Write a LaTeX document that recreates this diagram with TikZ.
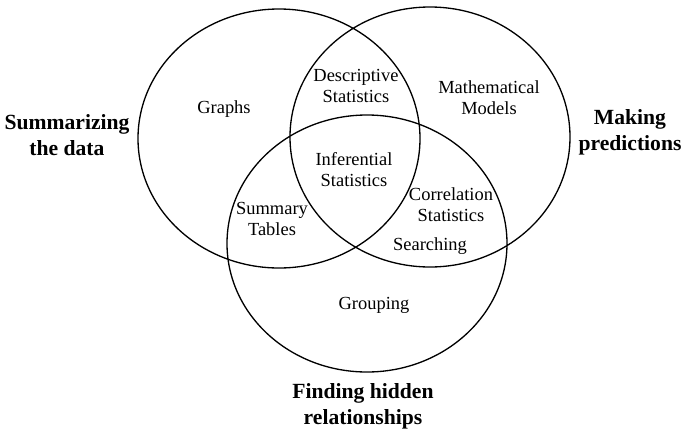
\documentclass[tikz,border=0pt]{standalone}
\usepackage{fontspec}
\setmainfont{Liberation Serif}
\begin{document}
\begin{tikzpicture}[x=0.2mm,y=-0.2mm,line join=round,line cap=round,
 lbl/.style={align=center,font=\fontsize{10.5}{12}\selectfont},
 bigtext/.style={align=center,font=\bfseries\fontsize{12.3}{15}\selectfont}]
 \useasboundingbox (0,0) rectangle (682,429);
 % the three sets
 \draw[line width=0.75pt] (279,138.5) ellipse (141 and 129.5)
 (430,137) ellipse (140 and 130)
 (367,243.5) ellipse (140 and 128.5);
 % set names
 \node[bigtext] (summ) at (67,135) {Summarizing\\the data};
 \node[bigtext] (pred) at (630,132) {Making\\predictions};
 \node[bigtext] (hidden) at (363,406) {Finding hidden\\relationships};
 % regions
 \node[lbl] (graphs) at (224,109) {Graphs};
 \node[lbl] (descr) at (356,86) {Descriptive\\Statistics};
 \node[lbl] (models) at (489,98) {Mathematical\\Models};
 \node[lbl] (infer) at (354,170) {Inferential\\Statistics};
 \node[lbl] (tables) at (272,219) {Summary\\Tables};
 \node[lbl] (corr) at (451,205) {Correlation\\Statistics};
 \node[lbl] (search) at (430,246) {Searching};
 \node[lbl] (group) at (374,305) {Grouping};
\end{tikzpicture}
\end{document}
